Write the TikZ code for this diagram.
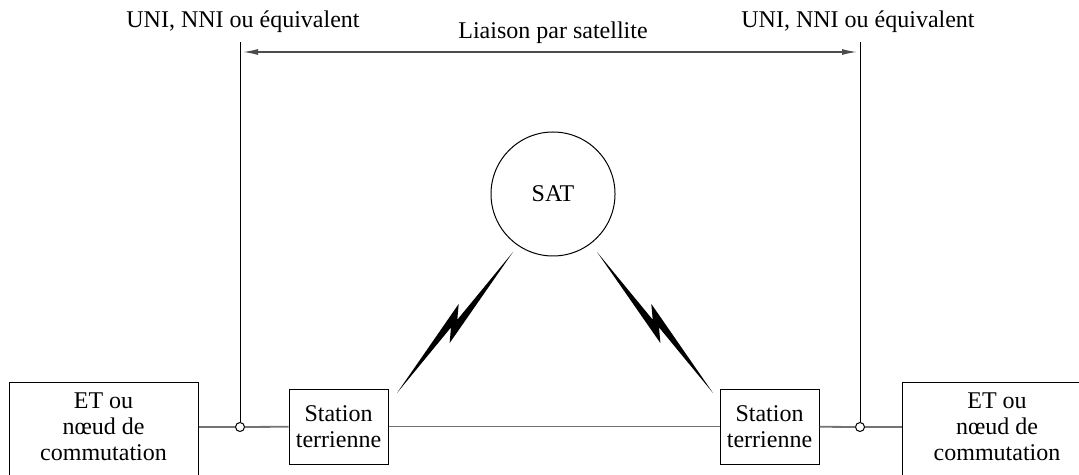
\documentclass[tikz,border=0pt]{standalone}
\usepackage{fontspec}
\setmainfont{Liberation Serif}
\usetikzlibrary{arrows.meta}
\begin{document}
\begin{tikzpicture}[x=0.5pt,y=-0.5pt,
  font=\fontsize{12}{13}\selectfont,
  box/.style={draw, line width=0.5pt, align=center, inner sep=0pt},
  link/.style={draw=black!55, line width=0.9pt},
  vline/.style={line width=0.5pt},
  port/.style={circle, draw, fill=white, line width=0.5pt, minimum size=4.5pt, inner sep=0pt},
  span/.style={draw=black!70, line width=0.7pt, {Latex[length=7.5pt,width=3pt]}-{Latex[length=7.5pt,width=3pt]}, shorten <=1.5pt, shorten >=1.5pt},
  bolt/.style={fill=black, draw=none}]
\useasboundingbox (0,0) rectangle (1079,475);
\clip (0,0) rectangle (1079,475);

% boxes
\node[box, minimum width=94.5pt, minimum height=60pt, anchor=north] (etl) at (103.5,382) {};
\node[align=center] (etlt) at (103.5,427) {ET ou\\nœud de\\commutation};
\node[box, minimum width=94.5pt, minimum height=60pt, anchor=north] (etr) at (997,382) {};
\node[align=center] (etrt) at (997,427) {ET ou\\nœud de\\commutation};
\node[box, minimum width=49.5pt, minimum height=37.5pt] (stl) at (338.5,426.5) {Station\\terrienne};
\node[box, minimum width=49.5pt, minimum height=37.5pt] (str) at (769.5,426.5) {Station\\terrienne};

% satellite
\node[circle, draw, line width=0.5pt, minimum size=62pt, inner sep=0pt] (sat) at (553,194) {SAT};

% interface points
\node[port] (cl) at (240,427) {};
\node[port] (cr) at (860,427) {};
\coordinate (tl) at (240,42);
\coordinate (tr) at (860,42);
\coordinate (al) at (240,52);
\coordinate (ar) at (860,52);

% horizontal link
\draw[link] (etl.east |- cl) -- (cl);
\draw[link] (cl) -- (stl);
\draw[link] (stl) -- (str);
\draw[link] (str) -- (cr);
\draw[link] (cr) -- (etr.west |- cr);

% vertical reference lines
\draw[vline] (tl) -- (cl);
\draw[vline] (tr) -- (cr);

% span arrow
\draw[span] (al) -- (ar);

% labels
\node (ul) at (243,22) {UNI, NNI ou équivalent};
\node (ur) at (858,22) {UNI, NNI ou équivalent};
\node (lps) at (553,33) {Liaison par satellite};

% lightning bolts
\fill[bolt] (513,252) -- (449.6,343.1) -- (451.0,327.4) -- (397,393) -- (458.7,303.9) -- (457.3,319.7) -- cycle;
\fill[bolt] (597,252) -- (660.4,343.1) -- (659.0,327.4) -- (713,393) -- (651.3,303.9) -- (652.7,319.7) -- cycle;
\end{tikzpicture}
\end{document}
